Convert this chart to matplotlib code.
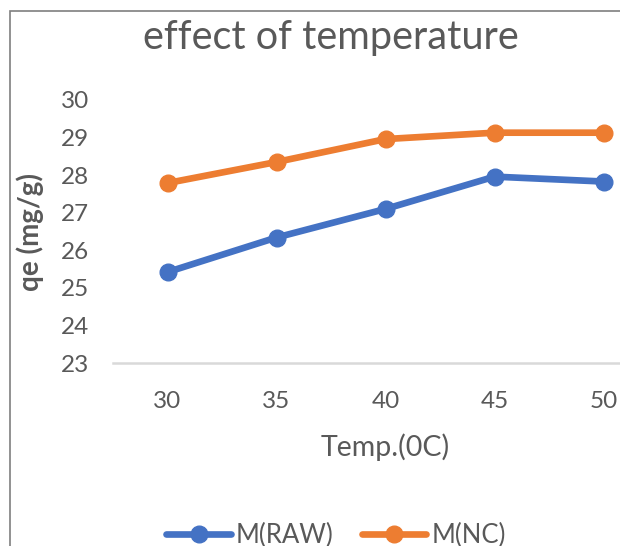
import matplotlib
matplotlib.use("Agg")
import matplotlib.pyplot as plt
from matplotlib.patches import Rectangle

plt.rcParams['font.family'] = ['Lato', 'DejaVu Sans']

temps = ['30', '35', '40', '45', '50']
qe_raw = [25.42, 26.34, 27.1, 27.96, 27.83]
qe_nc = [27.79, 28.35, 28.96, 29.13, 29.13]
y_ticks = [23, 24, 25, 26, 27, 28, 29, 30]

text_col = '#595959'
blue = '#4472C4'
orange = '#ED7D31'

W, H = 620, 546
fig = plt.figure(figsize=(W / 100, H / 100), dpi=100)

# chart border (right and bottom are cut off in the original)
fig.patches.append(Rectangle((10 / W, -0.1), 1.2, (H - 11) / H + 0.1,
                             transform=fig.transFigure, fill=False,
                             edgecolor='#7f7f7f', linewidth=1.2))

# plot area runs past the right edge, as in the cropped original
left, right = 113, 658
top, bottom = 100, 363
ax = fig.add_axes([left / W, (H - bottom) / H, (right - left) / W, (bottom - top) / H])

x = list(range(len(temps)))
ax.plot(x, qe_raw, color=blue, lw=4.8, marker='o', ms=12, label='M(RAW)',
        solid_capstyle='round')
ax.plot(x, qe_nc, color=orange, lw=4.8, marker='o', ms=12, label='M(NC)',
        solid_capstyle='round')

ax.set_xlim(-0.5, len(temps) - 0.5)
ax.set_ylim(23, 30)
ax.set_xticks(x)
ax.set_xticklabels(temps)
ax.set_yticks(y_ticks)

for s in ['top', 'right', 'left']:
    ax.spines[s].set_visible(False)
ax.spines['bottom'].set_color('#d9d9d9')
ax.spines['bottom'].set_linewidth(1.8)
ax.tick_params(length=0, labelsize=17.5, colors=text_col)
ax.tick_params(axis='x', pad=20)
ax.tick_params(axis='y', pad=17)

fig.text(385.5 / W, (H - 447) / H, 'Temp.(0C)', fontsize=20.5, color=text_col,
         ha='center', va='center')
fig.text(30 / W, (H - 232) / H, 'qe (mg/g)', fontsize=20, color=text_col,
         fontweight='bold', rotation=90, ha='center', va='center')
fig.text(331 / W, (H - 37) / H, 'effect of temperature', fontsize=28.5,
         color=text_col, ha='center', va='center')

fig.legend(loc='center', bbox_to_anchor=(336 / W, 11 / H), ncol=2, frameon=False,
           fontsize=18.5, labelcolor=text_col, handlelength=2.5, handletextpad=0.2,
           columnspacing=1.1)

fig.savefig('out.png', dpi=100)
